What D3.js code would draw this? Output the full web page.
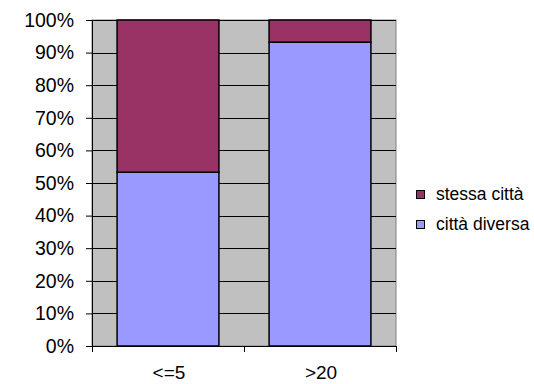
<!DOCTYPE html>
<html><head><meta charset="utf-8">
<script src="https://cdn.jsdelivr.net/npm/d3@7"></script>
<style>body{margin:0;background:#fff}svg{display:block;font-family:Arial,"Liberation Sans",sans-serif}</style>
</head><body><svg width="534" height="384"></svg>
<script>
const categories = ["<=5", ">20"];
const cittaDiversa = [53.3, 93.2];
const stessaCitta = [46.7, 6.8];
const seriesNames = ["città diversa", "stessa città"];
const seriesColors = ["#9999FF", "#993366"];
const yTicks = [0,10,20,30,40,50,60,70,80,90,100];

const svg = d3.select("svg");
const L = 92, R = 396, T = 20, B = 346;
const x = d3.scaleBand().domain(categories).range([L, R]).paddingInner(0.33).paddingOuter(0.165);
const y = d3.scaleLinear().domain([0, 100]).range([B, T]);

svg.append("rect").attr("x", L).attr("y", T).attr("width", R - L).attr("height", B - T)
  .attr("fill", "#C0C0C0").attr("stroke", "#808080").attr("stroke-width", 1);

svg.append("g").selectAll("line").data(yTicks.filter(d => d > 0)).join("line")
  .attr("x1", L).attr("x2", R).attr("y1", d => Math.round(y(d)) + 0.5).attr("y2", d => Math.round(y(d)) + 0.5)
  .attr("stroke", "#000").attr("stroke-width", 1);

const stack = d3.stack().keys([0, 1]).value((d, k) => d[k]);
const rows = categories.map((c, i) => [cittaDiversa[i], stessaCitta[i]]);
const layers = stack(rows);
layers.forEach((layer, k) => {
  svg.append("g").selectAll("rect").data(layer).join("rect")
    .attr("x", (d, i) => x(categories[i]))
    .attr("width", x.bandwidth())
    .attr("y", d => y(d[1]))
    .attr("height", d => y(d[0]) - y(d[1]))
    .attr("fill", seriesColors[k]).attr("stroke", "#000").attr("stroke-width", 1.5);
});

const yAxis = d3.axisLeft(y).tickValues(yTicks).tickFormat(d => d + "%").tickSize(6).tickPadding(12);
const gy = svg.append("g").attr("transform", `translate(${L},0)`).call(yAxis);
gy.attr("font-size", null).attr("font-family", null);
gy.select(".domain").attr("stroke", "#000");
gy.selectAll("text").attr("font-size", 19.5).attr("fill", "#000");

// x axis
const gx = svg.append("g");
gx.append("line").attr("x1", L).attr("x2", R).attr("y1", B + 0.5).attr("y2", B + 0.5).attr("stroke", "#000");
const bounds = [L, (x(categories[0]) + x.bandwidth() + x(categories[1])) / 2, R];
gx.selectAll("line.t").data(bounds).join("line").attr("class", "t")
  .attr("x1", d => Math.round(d) + 0.5).attr("x2", d => Math.round(d) + 0.5)
  .attr("y1", B).attr("y2", B + 6).attr("stroke", "#000");
gx.selectAll("text").data(categories).join("text")
  .attr("x", d => x(d) + x.bandwidth() / 2 + 1).attr("y", 379)
  .attr("text-anchor", "middle").attr("font-size", 19).text(d => d);

// legend
const legendItems = [1, 0];
const lg = svg.append("g");
legendItems.forEach((k, i) => {
  const yy = 190 + i * 30;
  lg.append("rect").attr("x", 416.5).attr("y", yy + 0.5).attr("width", 8).attr("height", 8)
    .attr("fill", seriesColors[k]).attr("stroke", "#000").attr("stroke-width", 1);
  lg.append("text").attr("x", 436).attr("y", yy + 9.5).attr("font-size", 17.5).text(seriesNames[k]);
});
</script></body></html>
